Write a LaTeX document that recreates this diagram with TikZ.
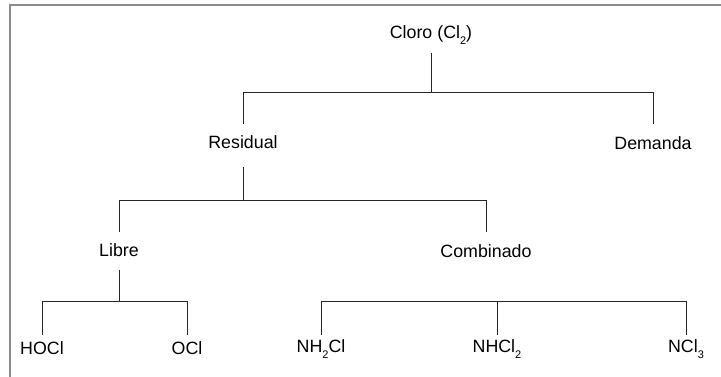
\documentclass[tikz,border=0pt]{standalone}
\usepackage{fontspec}
\setmainfont{Liberation Sans}
\newcommand{\sbs}[1]{\raisebox{-0.6ex}{\fontsize{11}{11}\selectfont #1}}
\begin{document}
\begin{tikzpicture}[x=1pt,y=-1pt,
  lbl/.style={inner sep=0pt,font=\fontsize{17.8}{19}\selectfont},
  conn/.style={draw=black!85,line width=0.9pt},
  frame/.style={draw=black!45,line width=2pt}]
\useasboundingbox (0,0) rectangle (721,377);
\draw[frame] (9.5,378) -- (9.5,5) -- (722,5);
% nodes
\node[lbl] (cloro) at (431,35) {Cloro (Cl\sbs{2})};
\node[lbl] (res) at (243,142) {Residual};
\node[lbl] (dem) at (653,143) {Demanda};
\node[lbl] (lib) at (119,250) {Libre};
\node[lbl] (comb) at (486,251) {Combinado};
\node[lbl] (hocl) at (42,348) {HOCl};
\node[lbl] (ocl) at (187,348) {OCl};
\node[lbl] (nh2cl) at (321,349) {NH\sbs{2}Cl};
\node[lbl] (nhcl2) at (497,349) {NHCl\sbs{2}};
\node[lbl] (ncl3) at (686,349) {NCl\sbs{3}};
% junctions
\coordinate (j1) at (431,92);
\coordinate (j2) at (243,200);
\coordinate (j3) at (119,301);
\coordinate (j4) at (497,301);
% connectors
\draw[conn] (cloro.south |- 0,53) -- (j1);
\draw[conn] (j1) -- (res |- j1) -- (res.north |- 0,124);
\draw[conn] (j1) -- (dem |- j1) -- (dem.north |- 0,124);
\draw[conn] (res.south |- 0,167) -- (j2);
\draw[conn] (j2) -- (lib |- j2) -- (lib.north |- 0,232);
\draw[conn] (j2) -- (comb |- j2) -- (comb.north |- 0,232);
\draw[conn] (lib.south |- 0,270) -- (j3);
\draw[conn] (j3) -- (hocl |- j3) -- (hocl.north |- 0,335);
\draw[conn] (j3) -- (ocl |- j3) -- (ocl.north |- 0,335);
\draw[conn] (nh2cl |- j4) -- (ncl3 |- j4);
\draw[conn] (nh2cl |- j4) -- (nh2cl.north |- 0,335);
\draw[conn] (j4) -- (nhcl2.north |- 0,335);
\draw[conn] (ncl3 |- j4) -- (ncl3.north |- 0,335);
\end{tikzpicture}
\end{document}
